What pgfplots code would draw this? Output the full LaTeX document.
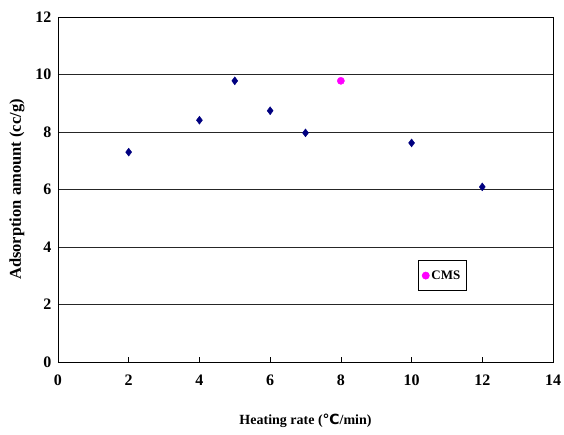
\documentclass[border=0pt]{standalone}
\usepackage{pgfplots}
\pgfplotsset{compat=1.18}
\usepackage{fontspec}
\setmainfont{Liberation Serif}
\newfontfamily\dejavu{DejaVu Sans}
\definecolor{navy}{RGB}{0,0,128}
\definecolor{cmsmag}{RGB}{255,0,255}
\begin{document}
\begin{tikzpicture}[x=1pt,y=1pt]
\useasboundingbox (-58pt,-72pt) rectangle (506pt,362pt);
\begin{axis}[
  at={(0,0)}, anchor=south west,
  scale only axis, width=495pt, height=345pt,
  xmin=0, xmax=14, ymin=0, ymax=12,
  xtick={0,2,...,14}, ytick={0,2,...,12},
  axis line style={black, line width=0.9pt},
  ymajorgrids, grid style={black!85, line width=0.6pt},
  xtick pos=bottom, ytick pos=left,
  xtick align=inside, major tick length=5pt,
  ytick style={draw=none},
  xtick style={black, line width=0.7pt},
  /pgf/number format/assume math mode=true,
  tick label style={font=\fontsize{16}{16}\selectfont\bfseries},
  yticklabel style={xshift=-3pt},
  xticklabel style={yshift=-9pt},
  xlabel={Heating rate ({\dejavu\bfseries ℃}/min)},
  ylabel={Adsorption amount (cc/g)},
  xlabel style={font=\fontsize{14}{14}\selectfont\bfseries, at={(axis description cs:0.5,-0.171)}, anchor=center},
  ylabel style={font=\fontsize{16.5}{16.5}\selectfont\bfseries, at={(axis description cs:-0.083,0.5)}, anchor=center},
  legend style={at={(0.727,0.206)}, anchor=south west, draw=black, line width=0.6pt,
    font=\fontsize{13}{13}\selectfont\bfseries, inner xsep=4pt, inner ysep=8pt},
  legend cell align=left,
  clip=false,
]
\addplot[only marks, mark=diamond*, mark size=4pt, color=navy, forget plot] coordinates {
  (2,7.30) (4,8.41) (5,9.78) (6,8.74) (7,7.97) (10,7.62) (12,6.09)
};
\addplot[only marks, mark=*, mark size=3.6pt, color=cmsmag] coordinates {
  (8,9.78)
};
\addlegendentry{CMS}
\end{axis}
\end{tikzpicture}
\end{document}
